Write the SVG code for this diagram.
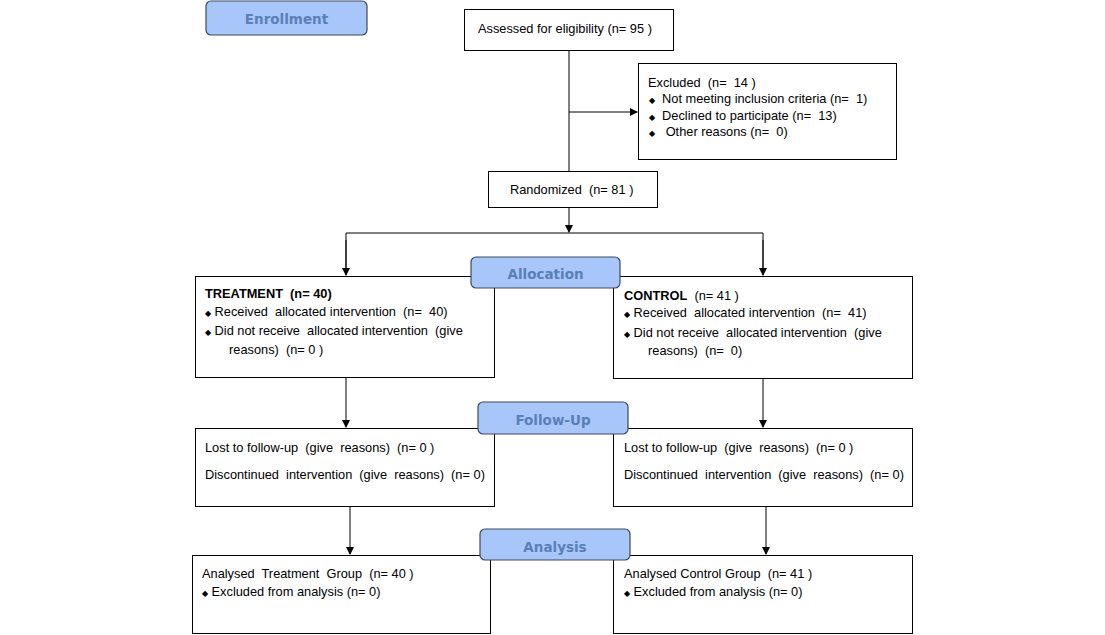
<svg xmlns="http://www.w3.org/2000/svg" width="1105" height="635" viewBox="0 0 1105 635">
<style>
.box{fill:#fff;stroke:#000;stroke-width:1}
.stage{fill:#a8c6fa;stroke:#3c4a5c;stroke-width:1.2}
.st{font-family:"DejaVu Sans",Verdana,sans-serif;font-weight:bold;font-size:13.5px;fill:#5a7fb8;text-anchor:middle}
.t{font-family:"Liberation Sans",Arial,sans-serif;font-size:12.8px;fill:#000;white-space:pre}
.b{font-weight:bold}
.d{font-size:8px}
.ln{stroke:#000;stroke-width:1;fill:none}
</style>
<defs>
<marker id="ar" markerWidth="8" markerHeight="8" refX="7" refY="4" orient="auto" markerUnits="userSpaceOnUse">
<path d="M0,0 L8,4 L0,8 z" fill="#000"/>
</marker>
</defs>
<g id="connectors">
<line class="ln" x1="569" y1="50" x2="569" y2="171"/>
<line class="ln" x1="569" y1="112" x2="637" y2="112" marker-end="url(#ar)"/>
<line class="ln" x1="569" y1="207" x2="569" y2="232" marker-end="url(#ar)"/>
<polyline class="ln" points="346,275 346,233 763,233 763,275"/>
<line class="ln" x1="346" y1="240" x2="346" y2="275" marker-end="url(#ar)"/>
<line class="ln" x1="763" y1="240" x2="763" y2="275" marker-end="url(#ar)"/>
<line class="ln" x1="346" y1="377" x2="346" y2="427" marker-end="url(#ar)"/>
<line class="ln" x1="763" y1="378" x2="763" y2="427" marker-end="url(#ar)"/>
<line class="ln" x1="350" y1="506" x2="350" y2="554" marker-end="url(#ar)"/>
<line class="ln" x1="766" y1="506" x2="766" y2="554" marker-end="url(#ar)"/>
</g>
<g id="enrollment"><rect class="stage" x="206" y="1" width="161" height="34" rx="5"/><text class="st" x="286.5" y="24">Enrollment</text></g>
<g id="assessed"><rect class="box" x="464.5" y="9.5" width="209" height="41"/><text class="t" x="478" y="33" xml:space="preserve">Assessed for eligibility (n= 95 )</text></g>
<g id="excluded"><rect class="box" x="638.5" y="63.5" width="258" height="96"/>
<text class="t" x="648" y="87" xml:space="preserve">Excluded  (n=  14 )</text>
<text class="t" x="649" y="103" xml:space="preserve"><tspan class="d">◆</tspan>  Not meeting inclusion criteria (n=  1)</text>
<text class="t" x="649" y="120" xml:space="preserve"><tspan class="d">◆</tspan>  Declined to participate (n=  13)</text>
<text class="t" x="649" y="136" xml:space="preserve"><tspan class="d">◆</tspan>   Other reasons (n=  0)</text>
</g>
<g id="randomized"><rect class="box" x="488.5" y="171.5" width="169" height="36"/><text class="t" x="510" y="194" xml:space="preserve">Randomized  (n= 81 )</text></g>
<g id="treatment"><rect class="box" x="195.5" y="276.5" width="299" height="101"/>
<text class="t" x="205" y="298" xml:space="preserve"><tspan class="b">TREATMENT  (n= 40)</tspan></text>
<text class="t" x="205" y="316" xml:space="preserve"><tspan class="d">◆</tspan> Received  allocated intervention  (n=  40)</text>
<text class="t" x="205" y="335" xml:space="preserve"><tspan class="d">◆</tspan> Did not receive  allocated intervention  (give</text>
<text class="t" x="229" y="354" xml:space="preserve">reasons)  (n= 0 )</text>
</g>
<g id="control"><rect class="box" x="613.5" y="276.5" width="299" height="102"/>
<text class="t" x="624" y="300" xml:space="preserve"><tspan class="b">CONTROL</tspan>  (n= 41 )</text>
<text class="t" x="624" y="317" xml:space="preserve"><tspan class="d">◆</tspan> Received  allocated intervention  (n=  41)</text>
<text class="t" x="624" y="337" xml:space="preserve"><tspan class="d">◆</tspan> Did not receive  allocated intervention  (give</text>
<text class="t" x="648" y="355" xml:space="preserve">reasons)  (n=  0)</text>
</g>
<g id="allocation"><rect class="stage" x="471" y="257" width="149" height="31" rx="5"/><text class="st" x="545.5" y="279">Allocation</text></g>
<g id="lost-treatment"><rect class="box" x="195.5" y="428.5" width="299" height="78"/>
<text class="t" x="205" y="452" xml:space="preserve">Lost to follow-up  (give  reasons)  (n= 0 )</text>
<text class="t" x="205" y="479" xml:space="preserve">Discontinued  intervention  (give  reasons)  (n= 0)</text>
</g>
<g id="lost-control"><rect class="box" x="613.5" y="428.5" width="299" height="78"/>
<text class="t" x="624" y="452" xml:space="preserve">Lost to follow-up  (give  reasons)  (n= 0 )</text>
<text class="t" x="624" y="479" xml:space="preserve">Discontinued  intervention  (give  reasons)  (n= 0)</text>
</g>
<g id="followup"><rect class="stage" x="478" y="402" width="150" height="32" rx="5"/><text class="st" x="553" y="425">Follow-Up</text></g>
<g id="analysed-treatment"><rect class="box" x="192.5" y="555.5" width="298" height="78"/>
<text class="t" x="202" y="578" xml:space="preserve">Analysed  Treatment  Group  (n= 40 )</text>
<text class="t" x="202" y="596" xml:space="preserve"><tspan class="d">◆</tspan> Excluded from analysis (n= 0)</text>
</g>
<g id="analysed-control"><rect class="box" x="613.5" y="555.5" width="299" height="78"/>
<text class="t" x="624" y="578" xml:space="preserve">Analysed Control Group  (n= 41 )</text>
<text class="t" x="624" y="596" xml:space="preserve"><tspan class="d">◆</tspan> Excluded from analysis (n= 0)</text>
</g>
<g id="analysis"><rect class="stage" x="480" y="529" width="150" height="31" rx="5"/><text class="st" x="555" y="552">Analysis</text></g>
</svg>
